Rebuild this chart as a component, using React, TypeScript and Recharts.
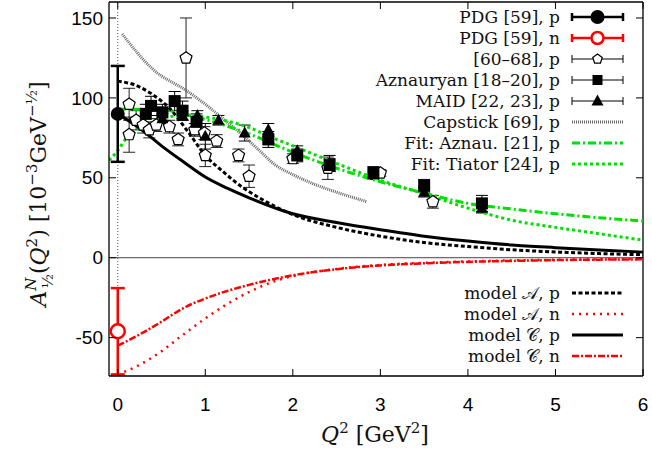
import React from "react";
import { ComposedChart, Line, Scatter, XAxis, YAxis, ErrorBar, ReferenceLine } from "recharts";

// A_1/2^N(Q^2) in 10^-3 GeV^-1/2 against Q^2 in GeV^2
const xTicks = [0, 1, 2, 3, 4, 5, 6];
const yTicks = [-50, 0, 50, 100, 150];

// [x, y, error]
const pdgP = [[0, 90, 30]];
const pdgN = [[0, -46, 27]];

const refs6068 = [
  [0.13, 96, 10], [0.13, 77, 11], [0.21, 86, 6], [0.29, 83, 5], [0.36, 80, 5],
  [0.44, 83, 4], [0.59, 82, 4], [0.69, 74, 4], [0.78, 125, 25], [0.88, 80, 4],
  [0.99, 78, 4], [1.0, 64, 7], [1.13, 73, 4], [1.38, 64, 4], [1.5, 51, 7],
  [2.0, 62, 3], [2.4, 56, 7], [3.0, 53, 2], [3.6, 35, 4],
];
const aznauryan = [
  [0.32, 90, 6], [0.38, 95, 6], [0.51, 91, 5], [0.65, 98, 6], [0.74, 92, 6],
  [0.9, 85, 5], [1.72, 74, 5], [2.05, 64, 4], [2.42, 58, 4], [2.92, 53, 4],
  [3.5, 45, 4], [4.16, 34, 5],
];
const maid = [
  [0.51, 87, 3], [0.74, 89, 3], [0.91, 89, 3], [1.0, 76, 8], [1.15, 86, 3],
  [1.45, 78, 5], [1.72, 80, 4], [2.05, 67, 3], [2.42, 59, 5], [3.5, 41, 3],
  [4.16, 31, 3],
];

// curves [x, y]
const capstick = [
  [0.05, 140], [0.4, 118], [0.8, 104], [1.0, 96], [1.2, 87], [1.4, 78], [1.6, 68],
  [1.8, 58], [2.0, 52], [2.2, 47], [2.5, 41], [2.85, 35],
];
const fitAznau = [
  [0, 93], [0.5, 92.5], [1, 86.5], [1.5, 77.5], [2, 66], [2.5, 56], [3, 47.5],
  [3.5, 40.5], [4, 34], [4.5, 30.5], [5, 27.5], [5.5, 25], [6, 23],
];
const fitTiator = [
  [-0.1, 61], [0, 67], [0.1, 75], [0.25, 81], [0.5, 87], [0.75, 89], [1, 88],
  [1.25, 85.5], [1.5, 81.5], [1.75, 75.5], [2, 70], [2.5, 59], [3, 48.5],
  [3.5, 40], [4, 31], [4.5, 23.5], [5, 19], [5.5, 15], [6, 11],
];
const modelAp = [
  [0, 110.5], [0.2, 108], [0.4, 102], [0.6, 93], [0.8, 79], [1, 64], [1.2, 54],
  [1.4, 45], [1.6, 38], [1.8, 32], [2, 27], [2.5, 19], [3, 13.5], [3.5, 9.5],
  [4, 7], [4.5, 5], [5, 3.6], [5.5, 2.6], [6, 1.9],
];
const modelCp = [
  [0, 90], [0.25, 81], [0.5, 70], [0.75, 60], [1, 50.5], [1.25, 43.5], [1.5, 37.5],
  [2, 27.5], [2.5, 22], [3, 17.5], [3.5, 13.5], [4, 10.5], [4.5, 8], [5, 6.3],
  [5.5, 4.8], [6, 3.5],
];
const modelAn = [
  [0, -73], [0.25, -67], [0.5, -58.5], [0.75, -48], [1, -38], [1.25, -29],
  [1.5, -21.5], [1.75, -15.5], [2, -11.5], [2.5, -7], [3, -4.5], [3.5, -3.2],
  [4, -2.3], [4.5, -1.7], [5, -1.3], [5.5, -1], [6, -0.8],
];
const modelCn = [
  [0, -55], [0.25, -48], [0.5, -40], [0.75, -31.5], [1, -25.5], [1.25, -20.8],
  [1.5, -17], [2, -11], [2.5, -7.2], [3, -4.8], [3.5, -3.5], [4, -2.6],
  [4.5, -2], [5, -1.5], [5.5, -1.2], [6, -1],
];

const pts = (a: number[][]) => a.map(([x, y, err]) => ({ x, y, err }));

const W = 652;
const H = 450;
const LEFT = 109;
const RIGHT = 643;
const TOP = 2;
const BOTTOM = 376;

const GREEN = "#00e000";
const RED = "#ff0000";
const SANS = "'Liberation Sans', Arial, sans-serif";
const SERIF = "'DejaVu Serif', serif";

function XTick({ x, payload }: any) {
  return (
    <g>
      <line x1={x} x2={x} y1={BOTTOM} y2={BOTTOM - 7} stroke="#000" />
      <line x1={x} x2={x} y1={TOP} y2={TOP + 7} stroke="#000" />
      <text x={x} y={BOTTOM + 35} textAnchor="middle" fontFamily={SANS} fontSize={19} fill="#000">
        {payload.value}
      </text>
    </g>
  );
}

function YTick({ y, payload }: any) {
  return (
    <g>
      <line x1={LEFT} x2={LEFT + 7} y1={y} y2={y} stroke="#000" />
      <line x1={RIGHT} x2={RIGHT - 7} y1={y} y2={y} stroke="#000" />
      <text x={LEFT - 6} y={y} dy="0.35em" textAnchor="end" fontFamily={SANS} fontSize={19} fill="#000">
        {payload.value}
      </text>
    </g>
  );
}

function pentagonPoints(cx: number, cy: number, r: number) {
  const p: string[] = [];
  for (let k = 0; k < 5; k++) {
    const a = (-90 + 72 * k) * (Math.PI / 180);
    p.push(`${cx + r * Math.cos(a)},${cy + r * Math.sin(a)}`);
  }
  return p.join(" ");
}

const Pentagon = ({ cx, cy }: any) => (
  <polygon points={pentagonPoints(cx, cy, 6.3)} fill="#fff" stroke="#000" strokeWidth={1.2} />
);
const Square = ({ cx, cy }: any) => <rect x={cx - 6} y={cy - 6} width={12} height={12} fill="#000" />;
const Triangle = ({ cx, cy }: any) => (
  <polygon points={`${cx},${cy - 6.5} ${cx + 6},${cy + 4.5} ${cx - 6},${cy + 4.5}`} fill="#000" />
);
const Dot = ({ cx, cy }: any) => <circle cx={cx} cy={cy} r={7} fill="#000" />;
const RedRing = ({ cx, cy }: any) => <circle cx={cx} cy={cy} r={7} fill="#fff" stroke={RED} strokeWidth={2.5} />;

const lineStyles: Record<string, { stroke: string; width: number; dash?: string }> = {
  capstick: { stroke: "#666", width: 3, dash: "1 1" },
  fitAznau: { stroke: GREEN, width: 3, dash: "8 3 2 3" },
  fitTiator: { stroke: GREEN, width: 3, dash: "3 3" },
  modelAp: { stroke: "#000", width: 3, dash: "4 2.5" },
  modelAn: { stroke: RED, width: 2.5, dash: "2 5" },
  modelCp: { stroke: "#000", width: 3 },
  modelCn: { stroke: RED, width: 2.5, dash: "7 2 2 2" },
};

const legendTop = [
  { label: "PDG [59], p", kind: "pdgP" },
  { label: "PDG [59], n", kind: "pdgN" },
  { label: "[60–68], p", kind: "pent" },
  { label: "Aznauryan [18–20], p", kind: "square" },
  { label: "MAID [22, 23], p", kind: "tri" },
  { label: "Capstick [69], p", kind: "capstick" },
  { label: "Fit: Aznau. [21], p", kind: "fitAznau" },
  { label: "Fit: Tiator [24], p", kind: "fitTiator" },
];
const legendBottom = [
  { label: "model 𝒜, p", kind: "modelAp" },
  { label: "model 𝒜, n", kind: "modelAn" },
  { label: "model 𝒞, p", kind: "modelCp" },
  { label: "model 𝒞, n", kind: "modelCn" },
];

const S0 = 572;
const S1 = 623;
const SM = (S0 + S1) / 2;

function Sample({ kind, y }: { kind: string; y: number }) {
  const ls = lineStyles[kind];
  if (ls) {
    return <line x1={S0} x2={S1} y1={y} y2={y} stroke={ls.stroke} strokeWidth={ls.width} strokeDasharray={ls.dash} />;
  }
  const heavy = kind === "pdgP" || kind === "pdgN";
  const c = kind === "pdgN" ? RED : "#000";
  const w = heavy ? 2.5 : 1;
  let mark: React.ReactNode = null;
  if (kind === "pdgP") mark = <Dot cx={SM} cy={y} />;
  if (kind === "pdgN") mark = <circle cx={SM} cy={y} r={6} fill="#fff" stroke={RED} strokeWidth={2.5} />;
  if (kind === "pent") mark = <polygon points={pentagonPoints(SM, y, 5)} fill="#fff" stroke="#000" strokeWidth={1.2} />;
  if (kind === "square") mark = <rect x={SM - 5} y={y - 5} width={10} height={10} fill="#000" />;
  if (kind === "tri") mark = <Triangle cx={SM} cy={y} />;
  return (
    <g>
      <line x1={S0} x2={S1} y1={y} y2={y} stroke={c} strokeWidth={w} />
      <line x1={S0} x2={S0} y1={y - 4} y2={y + 4} stroke={c} strokeWidth={w} />
      <line x1={S1} x2={S1} y1={y - 4} y2={y + 4} stroke={c} strokeWidth={w} />
      {mark}
    </g>
  );
}

function LegendBlock({ items, y0 }: { items: { label: string; kind: string }[]; y0: number }) {
  return (
    <g>
      {items.map((it, i) => {
        const y = y0 + i * 21;
        return (
          <g key={it.label}>
            <text x={560} y={y} dy="0.36em" textAnchor="end" fontFamily={SERIF} fontSize={17} fill="#111">
              {it.label}
            </text>
            <Sample kind={it.kind} y={y} />
          </g>
        );
      })}
    </g>
  );
}

function Overlay() {
  return (
    <svg width={W} height={H} style={{ position: "absolute", left: 0, top: 0, pointerEvents: "none" }}>
      <LegendBlock items={legendTop} y0={17} />
      <LegendBlock items={legendBottom} y0={293} />
      <text transform="translate(46,194) rotate(-90)" textAnchor="middle" fontFamily={SERIF} fontSize={22} fill="#111">
        <tspan fontStyle="italic">A</tspan>
        <tspan fontSize={15} fontStyle="italic" dy={-10}>N</tspan>
        <tspan fontSize={15} dx={-11} dy={17}>½</tspan>
        <tspan dy={-7}>(</tspan>
        <tspan fontStyle="italic">Q</tspan>
        <tspan fontSize={15} dy={-9}>2</tspan>
        <tspan dy={9}>) [10</tspan>
        <tspan fontSize={15} dy={-9}>−3</tspan>
        <tspan dy={9}>GeV</tspan>
        <tspan fontSize={15} dy={-9}>−½</tspan>
        <tspan dy={9}>]</tspan>
      </text>
      <text x={375} y={442} textAnchor="middle" fontFamily={SERIF} fontSize={22} fill="#111">
        <tspan fontStyle="italic">Q</tspan>
        <tspan fontSize={15} dy={-9}>2</tspan>
        <tspan dy={9}> [GeV</tspan>
        <tspan fontSize={15} dy={-9}>2</tspan>
        <tspan dy={9}>]</tspan>
      </text>
    </svg>
  );
}

function curve(name: string, data: number[][]) {
  const ls = lineStyles[name];
  return (
    <Line
      key={name}
      data={pts(data)}
      dataKey="y"
      type="monotone"
      stroke={ls.stroke}
      strokeWidth={ls.width}
      strokeDasharray={ls.dash}
      dot={false}
      activeDot={false}
      isAnimationActive={false}
    />
  );
}

export default function App() {
  return (
    <div style={{ position: "absolute", left: 0, top: 0, width: W, height: H, background: "#fff" }}>
      <ComposedChart width={W} height={H} margin={{ top: TOP, right: W - RIGHT, bottom: 0, left: 0 }}>
        <XAxis
          dataKey="x"
          type="number"
          domain={[-0.1, 6]}
          ticks={xTicks}
          allowDataOverflow
          height={H - BOTTOM}
          tickSize={0}
          tickLine={false}
          axisLine={{ stroke: "#000", strokeWidth: 1.3 }}
          tick={<XTick />}
        />
        <YAxis
          type="number"
          domain={[-74, 160]}
          ticks={yTicks}
          allowDataOverflow
          width={LEFT}
          tickSize={0}
          tickLine={false}
          axisLine={{ stroke: "#000", strokeWidth: 1.3 }}
          tick={<YTick />}
        />
        <ReferenceLine y={160} stroke="#000" strokeWidth={1.3} />
        <ReferenceLine x={6} stroke="#000" strokeWidth={1.3} />
        <ReferenceLine y={0} stroke="#444" strokeWidth={1} />
        <ReferenceLine x={0} stroke="#555" strokeWidth={1} strokeDasharray="1 2" />

        <Scatter data={pts(refs6068)} dataKey="y" shape={Pentagon} isAnimationActive={false}>
          <ErrorBar dataKey="err" direction="y" width={6} stroke="#222" strokeWidth={1} />
        </Scatter>
        <Scatter data={pts(aznauryan)} dataKey="y" shape={Square} isAnimationActive={false}>
          <ErrorBar dataKey="err" direction="y" width={6} stroke="#000" strokeWidth={1} />
        </Scatter>
        <Scatter data={pts(maid)} dataKey="y" shape={Triangle} isAnimationActive={false}>
          <ErrorBar dataKey="err" direction="y" width={6} stroke="#000" strokeWidth={1} />
        </Scatter>

        {curve("capstick", capstick)}
        {curve("fitAznau", fitAznau)}
        {curve("fitTiator", fitTiator)}
        {curve("modelAp", modelAp)}
        {curve("modelCp", modelCp)}
        {curve("modelAn", modelAn)}
        {curve("modelCn", modelCn)}

        <Scatter data={pts(pdgP)} dataKey="y" shape={Dot} isAnimationActive={false}>
          <ErrorBar dataKey="err" direction="y" width={7} stroke="#000" strokeWidth={2.5} />
        </Scatter>
        <Scatter data={pts(pdgN)} dataKey="y" shape={RedRing} isAnimationActive={false}>
          <ErrorBar dataKey="err" direction="y" width={7} stroke={RED} strokeWidth={2.5} />
        </Scatter>
      </ComposedChart>
      <Overlay />
    </div>
  );
}
